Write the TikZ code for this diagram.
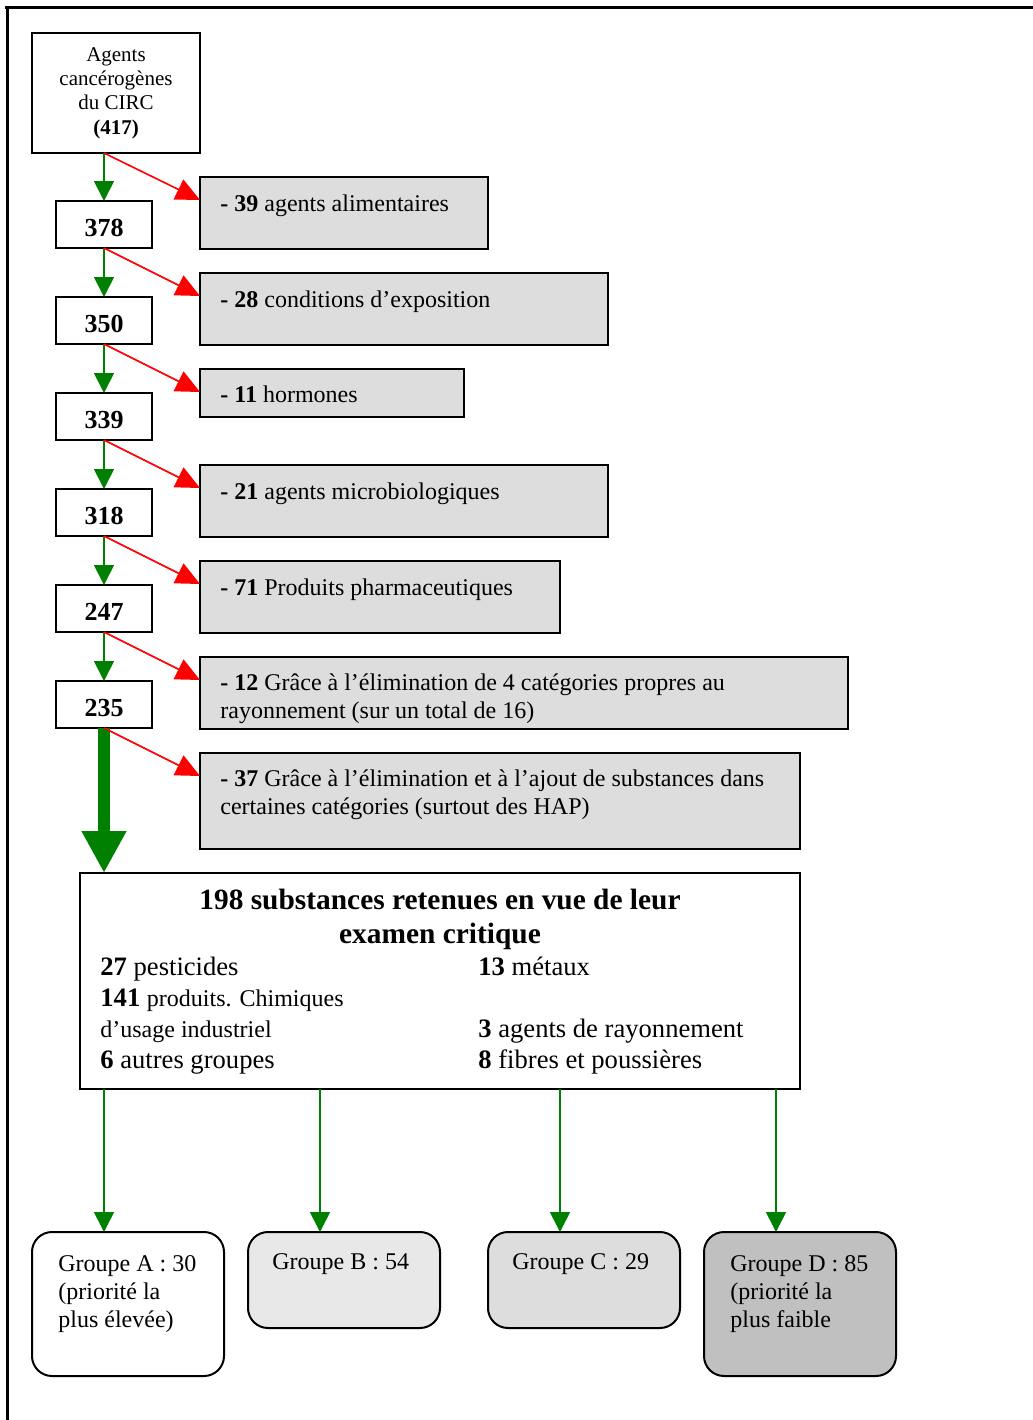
\documentclass[tikz,border=0pt]{standalone}
\usepackage{fontspec}
\setmainfont{Liberation Serif}
\usetikzlibrary{arrows.meta}
\definecolor{gfill}{HTML}{DDDDDD}
\definecolor{gB}{HTML}{E8E8E8}
\definecolor{gD}{HTML}{C0C0C0}
\definecolor{darkgreen}{HTML}{008000}
\begin{document}
\begin{tikzpicture}[x=0.5pt,y=-0.5pt,
 box/.style={draw=black, line width=1pt, inner sep=0pt, outer sep=0pt},
 numbox/.style={box, minimum width=48pt, minimum height=23.5pt, text height=12pt, text depth=0pt, font=\fontsize{13}{15}\selectfont\bfseries},
 graybox/.style={box, fill=gfill, anchor=north west},
 txt/.style={anchor=north west, inner sep=0pt, align=left, font=\fontsize{12}{14}\selectfont},
 garrow/.style={draw=darkgreen, line width=0.8pt, -{Triangle[width=10pt,length=10pt]}},
 rarrow/.style={draw=red, line width=0.8pt, -{Triangle[width=11pt,length=12pt]}},
 grp/.style={box, rounded corners=10pt, anchor=north west},
]
\useasboundingbox (0,0) rectangle (1033,1420);
% frame
\draw[line width=1.5pt] (5,7) -- (1033,7);
\draw[line width=1.5pt] (7,7) -- (7,1420);

% top box
\node[box, minimum width=84pt, minimum height=60pt, align=center, font=\fontsize{10.5}{12.2}\selectfont] (top) at (116,93)
  {Agents\\cancérogènes\\du CIRC\\\textbf{(417)}};

% number boxes
\node[numbox] (n378) at (104,224.5) {378};
\node[numbox] (n350) at (104,320.5) {350};
\node[numbox] (n339) at (104,416.5) {339};
\node[numbox] (n318) at (104,512.5) {318};
\node[numbox] (n247) at (104,608.5) {247};
\node[numbox] (n235) at (104,704.5) {235};

% gray boxes
\node[graybox, minimum width=144pt, minimum height=36pt] (g1) at (200,177) {};
\node[graybox, minimum width=204pt, minimum height=36pt] (g2) at (200,273) {};
\node[graybox, minimum width=132pt, minimum height=24pt] (g3) at (200,369) {};
\node[graybox, minimum width=204pt, minimum height=36pt] (g4) at (200,465) {};
\node[graybox, minimum width=180pt, minimum height=36pt] (g5) at (200,561) {};
\node[graybox, minimum width=324pt, minimum height=36pt] (g6) at (200,657) {};
\node[graybox, minimum width=300pt, minimum height=48pt] (g7) at (200,753) {};

\node[txt] (t1) at (220,191) {\strut\textbf{- 39} agents alimentaires};
\node[txt] (t2) at (220,287) {\strut\textbf{- 28} conditions d’exposition};
\node[txt] (t3) at (220,382) {\strut\textbf{- 11} hormones};
\node[txt] (t4) at (220,479) {\strut\textbf{- 21} agents microbiologiques};
\node[txt] (t5) at (220,575) {\strut\textbf{- 71} Produits pharmaceutiques};
\node[txt] (t6) at (220,670) {\strut\textbf{- 12} Grâce à l’élimination de 4 catégories propres au\\\strut rayonnement (sur un total de 16)};
\node[txt] (t7) at (220,766) {\strut\textbf{- 37} Grâce à l’élimination et à l’ajout de substances dans\\\strut certaines catégories (surtout des HAP)};

% big box
\node[box, minimum width=360pt, minimum height=108pt] (big) at (440,981) {};
\node[anchor=north, inner sep=0pt, align=center, font=\fontsize{14.7}{17}\selectfont\bfseries] (bigtitle) at (440,885)
  {\strut 198 substances retenues en vue de leur\\\strut examen critique};
\node[anchor=north west, inner sep=0pt, align=left, font=\fontsize{13.3}{15.5}\selectfont] (colL) at (100,953)
  {\strut\textbf{27} pesticides\\\strut\textbf{141} {\fontsize{12}{15.5}\selectfont produits. Chimiques}\\\strut{\fontsize{12}{15.5}\selectfont d’usage industriel}\\\strut\textbf{6} autres groupes};
\node[anchor=north west, inner sep=0pt, align=left, font=\fontsize{13.3}{15.5}\selectfont] (colR) at (478,953)
  {\strut\textbf{13} métaux\\\strut\\\strut\textbf{3} agents de rayonnement\\\strut\textbf{8} fibres et poussières};

% groups
\node[grp, fill=white, minimum width=96pt, minimum height=72pt] (gA) at (32,1232) {};
\node[grp, fill=gB, minimum width=96pt, minimum height=48pt] (gB) at (248,1232) {};
\node[grp, fill=gfill, minimum width=96pt, minimum height=48pt] (gC) at (488,1232) {};
\node[grp, fill=gD, minimum width=96pt, minimum height=72pt] (gDn) at (704,1232) {};
\node[txt] (tA) at (58,1251.5) {\strut Groupe A : 30\\\strut (priorité la\\\strut plus élevée)};
\node[txt] (tB) at (272,1249.5) {\strut Groupe B : 54};
\node[txt] (tC) at (512,1249.5) {\strut Groupe C : 29};
\node[txt] (tD) at (730,1251.5) {\strut Groupe D : 85\\\strut (priorité la\\\strut plus faible};

% green arrows
\draw[garrow] ([xshift=36pt]top.south west) -- (n378.north);
\draw[garrow] (n378.south) -- (n350.north);
\draw[garrow] (n350.south) -- (n339.north);
\draw[garrow] (n339.south) -- (n318.north);
\draw[garrow] (n318.south) -- (n247.north);
\draw[garrow] (n247.south) -- (n235.north);
\draw[darkgreen, line width=6pt, -{Triangle[width=21pt,length=21pt]}] (n235.south) -- ([xshift=12pt]big.north west);

% red arrows
\draw[rarrow] ([xshift=36pt]top.south west) -- ([yshift=-11.5pt]g1.north west);
\draw[rarrow] (n378.south) -- ([yshift=-11.5pt]g2.north west);
\draw[rarrow] (n350.south) -- ([yshift=-11.5pt]g3.north west);
\draw[rarrow] (n339.south) -- ([yshift=-11.5pt]g4.north west);
\draw[rarrow] (n318.south) -- ([yshift=-11.5pt]g5.north west);
\draw[rarrow] (n247.south) -- ([yshift=-11.5pt]g6.north west);
\draw[rarrow] (n235.south) -- ([yshift=-11.5pt]g7.north west);

% arrows to groups
\draw[garrow] ([xshift=12pt]big.south west) -- ([xshift=36pt]gA.north west);
\draw[garrow] ([xshift=120pt]big.south west) -- ([xshift=36pt]gB.north west);
\draw[garrow] ([xshift=240pt]big.south west) -- ([xshift=36pt]gC.north west);
\draw[garrow] ([xshift=348pt]big.south west) -- ([xshift=36pt]gDn.north west);
\end{tikzpicture}
\end{document}
